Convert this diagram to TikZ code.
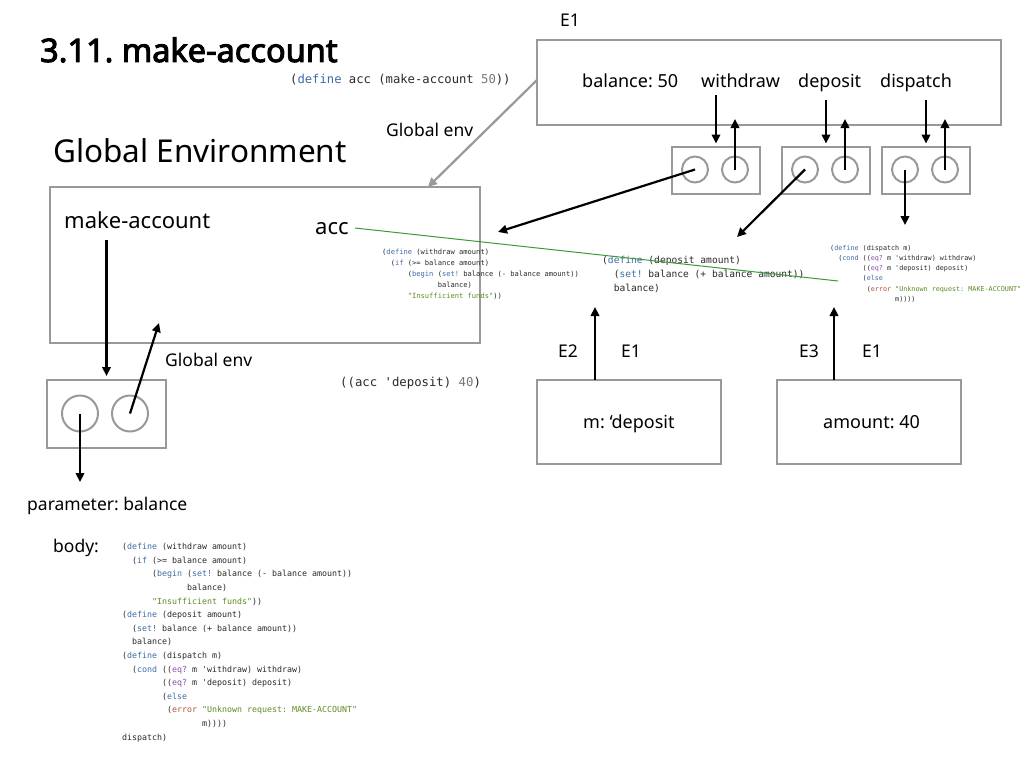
\documentclass[tikz,border=0pt]{standalone}
\usepackage{fontspec}
\setmainfont{Noto Sans}
\newfontfamily\titlefont{Noto Sans}[FakeBold=3]
\newfontfamily\codefont{DejaVu Sans Mono}[Ligatures=TeXOff]
\usetikzlibrary{arrows.meta}
\frenchspacing
\definecolor{boxgray}{HTML}{999999}
\definecolor{kwblue}{HTML}{3E6DA6}
\definecolor{eqpurple}{HTML}{8A4FA8}
\definecolor{errred}{HTML}{B0503A}
\definecolor{strgreen}{HTML}{5E8C24}
\definecolor{numgray}{HTML}{777777}
\definecolor{codetext}{HTML}{2A2A2A}
\definecolor{accgreen}{HTML}{3C9A3C}
\newcommand\ckw[1]{\textcolor{kwblue}{#1}}
\newcommand\ceq[1]{\textcolor{eqpurple}{#1}}
\newcommand\cerr[1]{\textcolor{errred}{#1}}
\newcommand\cstr[1]{\textcolor{strgreen}{#1}}
\newcommand\cnum[1]{\textcolor{numgray}{#1}}
\newcommand\ind[1]{\hspace*{#1\dimexpr0.602em\relax}}
\newcommand\withdrawcode{%
(\ckw{define} (withdraw amount)\\
\ind{2}(\ckw{if} (>= balance amount)\\
\ind{6}(\ckw{begin} (\ckw{set!} balance (- balance amount))\\
\ind{13}balance)\\
\ind{6}\cstr{"Insufficient funds"}))}
\newcommand\depositcode{%
(\ckw{define} (deposit amount)\\
\ind{2}(\ckw{set!} balance (+ balance amount))\\
\ind{2}balance)}
\newcommand\dispatchcode{%
(\ckw{define} (dispatch m)\\
\ind{2}(\ckw{cond} ((\ceq{eq?} m 'withdraw) withdraw)\\
\ind{8}((\ceq{eq?} m 'deposit) deposit)\\
\ind{8}(\ckw{else}\\
\ind{9}(\cerr{error} \cstr{"Unknown request: MAKE-ACCOUNT"}\\
\ind{16}m))))}
\tikzset{
  lbl/.style={font=\fontsize{17.5}{20}\selectfont, inner sep=0pt, anchor=base west, text=black},
  boxlbl/.style={font=\fontsize{18}{21}\selectfont, inner sep=0pt, anchor=base west, text=black},
  code/.style={inner sep=0pt, anchor=north west, align=left, text=codetext},
  envbox/.style={draw=boxgray, line width=2pt, inner sep=0pt},
  circ/.style={circle, draw=boxgray, line width=2pt, inner sep=0pt},
  arr/.style={draw=black, line width=2.2pt, -{Triangle[width=8.5pt,length=9pt]}},
  grayarr/.style={draw=boxgray, line width=2.2pt, -{Triangle[width=8.5pt,length=9pt]}},
}
\begin{document}
\begin{tikzpicture}[x=1pt,y=-1pt]
\fill[white] (0,0) rectangle (1024,768);
\useasboundingbox (0,0) rectangle (1024,768);

% title and top code
\node[lbl, font=\titlefont\fontsize{32.5}{36}\selectfont] (title) at (40,62) {3.11. make-account};
\node[code, font=\codefont\fontsize{12.2}{14}\selectfont] (defacc) at (290,74.4) {(\ckw{define} acc (make-account \cnum{50}))};

% E1 frame
\node[lbl] (e1lbl) at (560,27) {E1};
\node[envbox, minimum width=464pt, minimum height=85pt] (E1) at (769,82.5) {};
\node[boxlbl] (bal) at (582,87) {balance: 50};
\node[boxlbl] (wd) at (701,87) {withdraw};
\node[boxlbl] (dp) at (798,87) {deposit};
\node[boxlbl] (dsp) at (880,87) {dispatch};

% procedure pairs
\node[envbox, minimum width=88pt, minimum height=47pt] (pb1) at (716,170.5) {};
\node[envbox, minimum width=88pt, minimum height=47pt] (pb2) at (826,170.5) {};
\node[envbox, minimum width=88pt, minimum height=47pt] (pb3) at (926,170.5) {};
\node[circ, minimum size=26pt] (p1a) at (695,169.5) {};
\node[circ, minimum size=26pt] (p1b) at (735,169.5) {};
\node[circ, minimum size=26pt] (p2a) at (805,169.5) {};
\node[circ, minimum size=26pt] (p2b) at (845,169.5) {};
\node[circ, minimum size=26pt] (p3a) at (905,169.5) {};
\node[circ, minimum size=26pt] (p3b) at (945,169.5) {};

% global env
\node[lbl] (genv1) at (386,136) {Global env};
\node[lbl, font=\fontsize{31.5}{35}\selectfont] (glob) at (53,162) {Global Environment};
\node[envbox, minimum width=430pt, minimum height=156pt] (G) at (265,265) {};
\node[lbl, font=\fontsize{22}{26}\selectfont] (ma) at (64,228) {make-account};
\node[lbl, font=\fontsize{22}{26}\selectfont] (acc) at (315,234) {acc};

% code snippets
\node[code, font=\codefont\fontsize{7.1}{11}\selectfont] (wcode) at (382,248.7) {\withdrawcode};
\node[code, font=\codefont\fontsize{9.6}{14}\selectfont] (dcode) at (602,255.6) {\depositcode};
\node[code, font=\codefont\fontsize{6.75}{10.2}\selectfont] (scode) at (830,244.9) {\dispatchcode};

% bottom-left procedure object
\node[envbox, minimum width=119pt, minimum height=68pt] (BL) at (106.5,414) {};
\node[circ, minimum size=36pt] (bla) at (80,413.5) {};
\node[circ, minimum size=36pt] (blb) at (130,413.5) {};
\node[lbl] (genv2) at (165,366) {Global env};
\node[lbl] (param) at (27,510) {parameter: balance};
\node[lbl] (bodylbl) at (53,552) {body:};
\node[code, font=\codefont\fontsize{8.3}{13.6}\selectfont] (body) at (122,543.2) {\withdrawcode\\
\depositcode\\
\dispatchcode\\
dispatch)};

% call and new frames
\node[code, font=\codefont\fontsize{12.3}{14}\selectfont] (call) at (340,377.3) {((acc 'deposit) \cnum{40})};
\node[envbox, minimum width=184pt, minimum height=84pt] (mbox) at (629,422) {};
\node[envbox, minimum width=184pt, minimum height=84pt] (abox) at (869,422) {};
\node[boxlbl] (mtxt) at (583,428) {m: ‘deposit};
\node[boxlbl] (atxt) at (823,428) {amount: 40};
\node[lbl] (e2) at (558,357) {E2};
\node[lbl] (e1a) at (621,357) {E1};
\node[lbl] (e3) at (799,357) {E3};
\node[lbl] (e1b) at (862,357) {E1};

% free-end coordinates
\coordinate (wtip) at (498,232);
\coordinate (dtip) at (737,237);
\coordinate (stip) at (905,225);
\coordinate (gtip) at (428,187);
\coordinate (gstart) at (537,80);
\coordinate (bltip) at (159,323);
\coordinate (partip) at (80,482);
\coordinate (mbase) at (595,380);
\coordinate (mtip) at (595,307);
\coordinate (abase) at (834,380);
\coordinate (atip) at (834,307);
\coordinate (accstart) at (355,228);
\coordinate (accend) at (838,281);

% connectors
\draw[arr, shorten <=8pt, shorten >=2.5pt] (wd.south -| pb1.north) -- (pb1.north);
\draw[arr, shorten <=8pt, shorten >=2.5pt] (dp.south -| pb2.north) -- (pb2.north);
\draw[arr, shorten <=8pt, shorten >=2.5pt] (dsp.south -| pb3.north) -- (pb3.north);
\draw[arr, shorten >=-7pt] (p1b.center) -- (p1b.center |- E1.south);
\draw[arr, shorten >=-7pt] (p2b.center) -- (p2b.center |- E1.south);
\draw[arr, shorten >=-7pt] (p3b.center) -- (p3b.center |- E1.south);
\draw[arr] (p1a.center) -- (wtip);
\draw[arr] (p2a.center) -- (dtip);
\draw[arr] (p3a.center) -- (stip);
\draw[grayarr] (gstart) -- (gtip);
\draw[arr, shorten <=12pt, shorten >=3pt] (ma.south -| BL.north) -- (BL.north);
\draw[arr] (blb.center) -- (bltip);
\draw[arr] (bla.center) -- (partip);
\draw[arr] (mbase) -- (mtip);
\draw[arr] (abase) -- (atip);
\draw[accgreen, line width=1pt] (accstart) -- (accend);
\end{tikzpicture}
\end{document}
